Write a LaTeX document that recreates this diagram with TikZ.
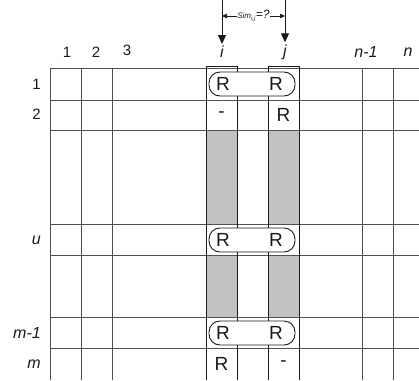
\documentclass[tikz,border=0pt]{standalone}
\usepackage{fontspec}
\setmainfont{Liberation Sans}
\usetikzlibrary{arrows.meta,positioning}
\definecolor{smInk}{HTML}{1A1A1A}
\definecolor{smGrid}{HTML}{505050}
\definecolor{smShade}{HTML}{C2C2C2}
\tikzset{
  sm canvas/.style={fill=white},
  sm grid/.style={draw=smGrid, line width=.8pt},
  sm column/.style={draw=smInk, line width=.9pt},
  sm shade/.style={fill=smShade},
  sm oval/.style={draw=smInk, fill=white, line width=.9pt, rounded corners=11pt},
  sm entry/.style={font=\fontsize{19}{19}\selectfont, text=smInk, inner sep=0pt},
  sm index/.style={font=\fontsize{15}{15}\selectfont, text=smInk, inner sep=0pt},
  sm var/.style={font=\itshape\fontsize{16}{16}\selectfont, text=smInk, inner sep=0pt},
  sm pointer/.style={draw=smInk, line width=.9pt, -{Triangle[length=9pt,width=8pt]}},
  sm span/.style={draw=smInk, line width=.6pt,
    {Triangle[length=5pt,width=4.5pt]}-{Triangle[length=5pt,width=4.5pt]}}
}

\begin{document}
\begin{tikzpicture}[x=1pt,y=-1pt]
  \path[sm canvas] (0,0) rectangle (419,380);
  \useasboundingbox (0,0) rectangle (419,380);

  % gray bands in the two compared columns
  \foreach \x in {206,268} {
    \fill[sm shade] (\x,130) rectangle ++(31,94);
    \fill[sm shade] (\x,255) rectangle ++(31,62);
  }

  % rating matrix grid
  \foreach \y in {68,100,130,224,255,317,348}
    \draw[sm grid] (50,\y) -- (419,\y);
  \foreach \x in {50,81,112,362,393}
    \draw[sm grid] (\x,68) -- (\x,380);
  \foreach \x in {206,268}
    \draw[sm column] (\x,380) -- (\x,66) -- ++(31,0) -- (\x+31,380);

  % column and row indices
  \node[sm index] (c1) at (67,52) {1};
  \node[sm index] (c2) at (96,52) {2};
  \node[sm index] (c3) at (127,50) {3};
  \node[sm var] (ci) at (222,52) {i};
  \node[sm var] (cj) at (285,52) {j};
  \node[sm var] (cn1) at (366,52) {n-1};
  \node[sm var] (cn) at (408,52) {n};
  \node[sm index, anchor=east] (r1) at (41,84) {1};
  \node[sm index, anchor=east] (r2) at (41,114) {2};
  \node[sm var, anchor=east] (ru) at (41,240) {u};
  \node[sm var, anchor=east] (rm1) at (41,333) {m-1};
  \node[sm var, anchor=east] (rm) at (41,364) {m};

  % pointers and similarity span
  \coordinate (itop) at (222,0);
  \coordinate (jtop) at (285,0);
  \draw[sm pointer] (itop) -- ([yshift=2pt]ci.north);
  \draw[sm pointer] (jtop) -- ([yshift=2pt]cj.north);
  \coordinate (spanL) at (222,16);
  \coordinate (spanR) at (285,16);
  \draw[sm span] (spanL) -- (spanR);
  \node[fill=white, inner sep=.5pt, text=smInk] (sim) at (253.5,16)
    {\fontsize{8}{8}\selectfont\itshape Sim\textsubscript{i,j}\fontsize{12}{12}\selectfont =?};

  % co-rated rows
  \foreach \y/\n in {68/one,224/u,317/mone} {
    \draw[sm oval] (209,\y+4) rectangle (295,\y+28);
    \node[sm entry] (ri\n) at (223,\y+16) {R};
    \node[sm entry] (rj\n) at (276,\y+16) {R};
  }

  % rows rated by only one user
  \node[sm entry] (di2) at (221.5,115) {-};
  \node[sm entry] (rj2) at (283.5,115) {R};
  \node[sm entry] (rim) at (221.5,364) {R};
  \node[sm entry] (djm) at (283.5,364) {-};
\end{tikzpicture}
\end{document}
